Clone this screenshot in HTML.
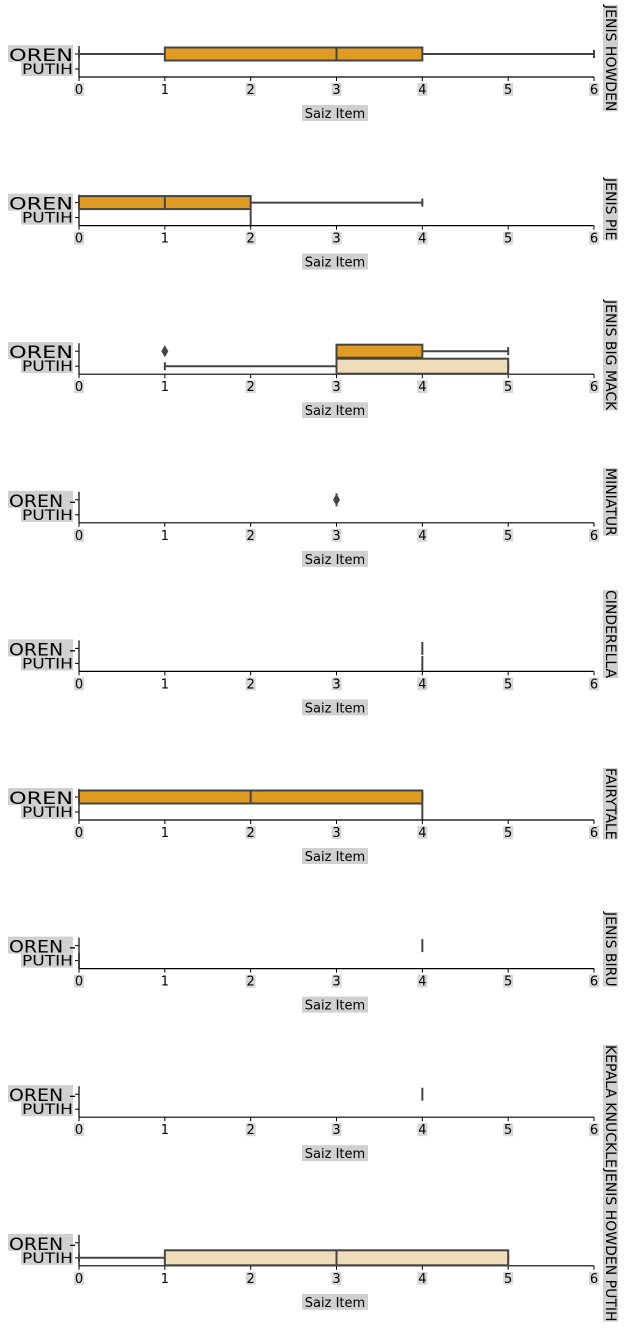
<!DOCTYPE html>
<html><head><meta charset="utf-8">
<style>
body{margin:0;background:#fff;width:628px;height:1337px;overflow:hidden}
svg{display:block;font-family:"DejaVu Sans","Liberation Sans",sans-serif}
</style></head>
<body>
<svg id="chart" width="628" height="1337" viewBox="0 0 628 1337"></svg>
<script>
const panelTitles = ["JENIS HOWDEN","JENIS PIE","JENIS BIG MACK","MINIATUR","CINDERELLA","FAIRYTALE","JENIS BIRU","KEPALA KNUCKLE","JENIS HOWDEN PUTIH"];
const categories = ["OREN","PUTIH"];
const xTicks = [0,1,2,3,4,5,6];
const orenStats = [[0,1,3,4,6],[0,0,1,2,4],[3,3,3,4,5],[3,3,3,3,3],[4,4,4,4,4],[0,0,2,4,4],[4,4,4,4,4],[4,4,4,4,4],null];
const putihStats = [null,[2,2,2,2,2],[1,3,3,5,5],null,[4,4,4,4,4],[4,4,4,4,4],[0,0,0,0,0],null,[0,1,3,5,5]];
const orenOutliers = [[],[],[1],[3],[],[],[],[],[]];
const putihOutliers = [[],[],[],[],[],[],[],[],[]];

const NS="http://www.w3.org/2000/svg";
const svg=document.getElementById('chart');
const X0=79, X1=594, XMAX=6;
const xs=v=>X0+(v/XMAX)*(X1-X0);
const titleStart=[5,178,300,468,590,768,912,1045,null];
function mk(t,a,p){const e=document.createElementNS(NS,t);for(const k in a)e.setAttribute(k,a[k]);(p||svg).appendChild(e);return e;}
function txt(s,a,p){const e=mk('text',a,p);e.textContent=s;return e;}
let prevEnd=0;

panelTitles.forEach((title,i)=>{
  const ay=77+i*148.6;
  const g=mk('g',{});
  
  
  const rowY=[ay-23, ay-8];
  const colors=['#e09c22','#efdcb9'];
  const stats=[orenStats[i],putihStats[i]];
  const outs=[orenOutliers[i],putihOutliers[i]];
  const bh=[13,15];
  const full=stats[0]&&stats[0][1]!==stats[0][3];
  mk('rect',{x:8,y:rowY[0]-9,width:65,height:17,fill:'#d0d0d0'},g);
  const l1=txt(full?'OREN':'OREN -',{x:9,y:rowY[0]+7,'font-size':17,fill:'#000',textLength:full?64:67,lengthAdjust:'spacingAndGlyphs'},g);
  
  
  mk('rect',{x:21,y:rowY[1]-7,width:52,height:14,fill:'#d0d0d0'},g);
  const l2=txt('PUTIH',{x:22,y:rowY[1]+5,'font-size':14,fill:'#000',textLength:51,lengthAdjust:'spacingAndGlyphs'},g);
  
  
  mk('line',{x1:X0,y1:ay-31,x2:X0,y2:ay,stroke:'#000','stroke-width':1.2},g);
  mk('line',{x1:X0,y1:ay,x2:X1,y2:ay,stroke:'#000','stroke-width':1.2},g);
  rowY.forEach(y=>mk('line',{x1:X0-4,y1:y,x2:X0,y2:y,stroke:'#000'},g));
  xTicks.forEach(t=>{
    mk('line',{x1:xs(t),y1:ay,x2:xs(t),y2:ay+4,stroke:'#000'},g);
    if(t!==1) mk('rect',{x:xs(t)-5,y:ay+6,width:10,height:13,fill:'#d8d8d8'},g);
    const tl=txt(String(t),{x:xs(t),y:ay+17,'font-size':13,'text-anchor':'middle',fill:'#000'},g);
    
    
  });
  mk('rect',{x:302,y:ay+28,width:66,height:16,fill:'#d0d0d0'},g);
  const xt=txt('Saiz Item',{x:335,y:ay+41,'font-size':13,'text-anchor':'middle',fill:'#000'},g);
  
  
  stats.forEach((s,c)=>{
    if(!s) return;
    const y=rowY[c], h=bh[c];
    const bg=mk('g',{},g);
    
    
    mk('line',{x1:xs(s[0]),y1:y,x2:xs(s[1]),y2:y,stroke:'#444','stroke-width':2},bg);
    mk('line',{x1:xs(s[3]),y1:y,x2:xs(s[4]),y2:y,stroke:'#444','stroke-width':2},bg);
    if(s[0]!==s[4]){
      mk('line',{x1:xs(s[0]),y1:y-4,x2:xs(s[0]),y2:y+4,stroke:'#444','stroke-width':2},bg);
      mk('line',{x1:xs(s[4]),y1:y-4,x2:xs(s[4]),y2:y+4,stroke:'#444','stroke-width':2},bg);
    }
    if(s[1]!==s[3]){
      mk('rect',{x:xs(s[1]),y:y-h/2,width:xs(s[3])-xs(s[1]),height:h,fill:colors[c],stroke:'#444','stroke-width':2},bg);
    }
    mk('line',{x1:xs(s[2]),y1:y-h/2,x2:xs(s[2]),y2:y+h/2,stroke:'#444','stroke-width':2},bg);
  });
  outs.forEach((o,c)=>o.forEach(v=>{
    const d=mk('path',{d:`M${xs(v)} ${rowY[c]-6}L${xs(v)+3.5} ${rowY[c]}L${xs(v)} ${rowY[c]+6}L${xs(v)-3.5} ${rowY[c]}Z`,fill:'#444'},g);
    
    
  }));
  const tx=610;
  const rect=mk('rect',{x:tx-7,y:0,width:15,height:0,fill:'#d0d0d0'},g);
  const tt=txt(title,{x:tx,y:0,'font-size':14,fill:'#000','dominant-baseline':'middle'},g);
  
  
  const tw=tt.getComputedTextLength();
  const ty = titleStart[i]!==null ? titleStart[i] : prevEnd+1;
  prevEnd=ty+tw;
  tt.setAttribute('y',ty);
  tt.setAttribute('transform',`rotate(90 ${tx} ${ty})`);
  rect.setAttribute('y',ty);
  rect.setAttribute('height',tw);
});
</script>
</body></html>
